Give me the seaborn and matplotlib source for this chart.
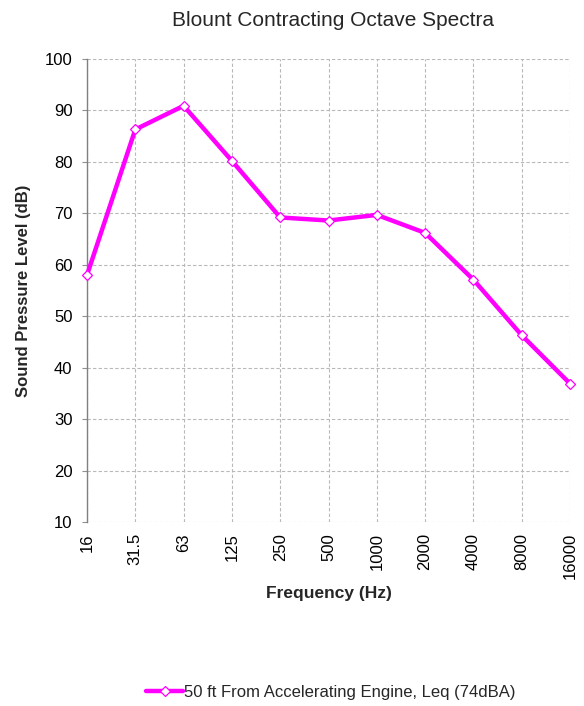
import matplotlib
matplotlib.use("Agg")
import matplotlib.pyplot as plt
import seaborn as sns
import pandas as pd

frequencies = ["16", "31.5", "63", "125", "250", "500", "1000", "2000", "4000", "8000", "16000"]
spl_values = [58.0, 86.3, 90.9, 80.2, 69.2, 68.6, 69.7, 66.2, 57.1, 46.3, 36.9]
series_name = "50 ft From Accelerating Engine, Leq (74dBA)"
y_ticks = [10, 20, 30, 40, 50, 60, 70, 80, 90, 100]

sns.set_theme(style="white")
plt.rcParams['font.family'] = ['Liberation Sans', 'DejaVu Sans']

df = pd.DataFrame({"Frequency": frequencies, "SPL": spl_values})

fig = plt.figure(figsize=(5.84, 7.06), dpi=100)
ax = fig.add_axes([87/584, 1-522/706, (570-87)/584, (522-59)/706])

sns.pointplot(data=df, x="Frequency", y="SPL", order=frequencies, ax=ax,
              color="#FF00FF", markers="D", linewidth=3.2,
              markersize=5.5, markerfacecolor="white",
              markeredgecolor="#FF00FF", markeredgewidth=0.9,
              label=series_name, clip_on=False, zorder=3)

ax.set_xlim(0, len(frequencies) - 1)
ax.set_ylim(10, 100)
ax.set_yticks(y_ticks)
ax.grid(True, color="#b8b8b8", linestyle=(0, (3, 2)), linewidth=0.8)
ax.set_axisbelow(True)
for s in ["top", "right", "bottom"]:
    ax.spines[s].set_visible(False)
ax.spines["left"].set_color("#808080")
ax.spines["left"].set_linewidth(1.0)
ax.tick_params(axis="x", labelrotation=90, labelsize=12, colors="#000000", length=0, pad=8)
ax.tick_params(axis="y", labelsize=12, labelcolor="#000000", color="#909090",
               length=3.5, width=0.8, direction="out", left=True, pad=7)

ax.set_xlabel("Frequency (Hz)", fontsize=12.5, fontweight="bold", labelpad=5)
ax.set_ylabel("Sound Pressure Level (dB)", fontsize=12, fontweight="bold", labelpad=10)
fig.text(333/584, 1-20/706, "Blount Contracting Octave Spectra", ha="center", va="center", fontsize=15)

if ax.get_legend():
    ax.get_legend().remove()
handles, labels = ax.get_legend_handles_labels()
fig.legend(handles, labels, loc="center", bbox_to_anchor=(331/584, 1-692/706),
           frameon=False, fontsize=12, handlelength=2.2, handletextpad=0.05)

fig.savefig("out.png", dpi=100)
